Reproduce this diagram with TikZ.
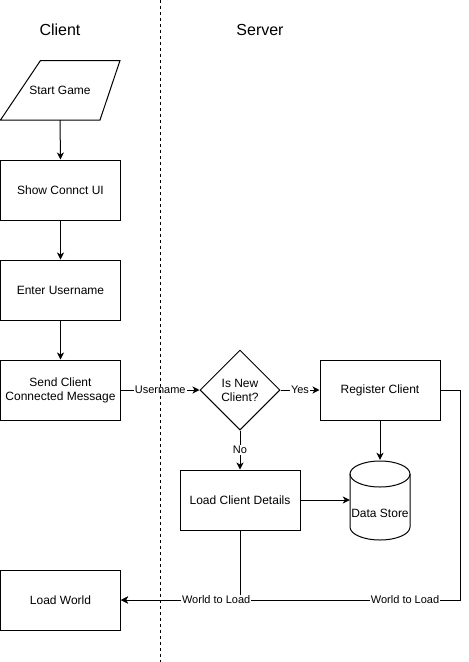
\documentclass[tikz,border=0pt]{standalone}
\usepackage{fontspec}
\setmainfont{Liberation Sans}
\usetikzlibrary{arrows.meta,shapes.geometric}
\begin{document}
\begin{tikzpicture}[x=1pt,y=-1pt,
  txt/.style={font=\fontsize{12}{14}\selectfont,align=center},
  box/.style={txt,draw,line width=1pt,minimum width=120pt,minimum height=60pt,inner sep=0pt},
  ghost/.style={txt,minimum width=#1,minimum height=60pt,inner sep=0pt},
  dia/.style={txt,draw,line width=1pt,diamond,minimum width=80pt,minimum height=80pt,inner sep=0pt},
  arr/.style={line width=1pt,-{Stealth[length=7pt,width=7pt,inset=2pt]}},
  plain/.style={line width=1pt},
  lbl/.style={fill=white,inner sep=1pt,font=\fontsize{11}{13}\selectfont},
  title/.style={font=\fontsize{16}{19}\selectfont},
  lane/.style={line width=1pt,dash pattern=on 3pt off 3pt}]
\useasboundingbox (0,0) rectangle (469,662);

% titles
\node[title] (tc) at (60,30) {Client};
\node[title] (ts) at (260,30) {Server};

% start game parallelogram
\draw[plain] (40.5,60.5) -- (120,60.5) -- (100,120) -- (0.5,120) -- cycle;
\node[ghost=100pt] (start) at (60,90) {Start Game};

\node[box] (show) at (60.5,190) {Show Connct UI};
\node[box] (enter) at (60.5,290) {Enter Username};
\node[box] (send) at (60.5,390) {Send Client\\Connected Message};
\node[box] (lw) at (60.5,600) {Load World};

\node[dia] (isnew) at (240,390) {Is New\\Client?};
\node[box] (reg) at (380,390) {Register Client};
\node[box] (lcd) at (240,500) {Load Client Details};

% data store cylinder
\draw[plain] (350,474) -- (350,527) arc[start angle=180,end angle=360,x radius=30,y radius=-13] -- (410,474);
\draw[plain] (380,474) ellipse[x radius=30,y radius=13];
\node[txt,minimum width=60pt,minimum height=80pt,inner sep=0pt] (ds) at (380,500) {};
\node[txt] (dslabel) at (380,513) {Data Store};

% connectors
\draw[arr] (start.south) -- (show.north);
\draw[arr] (show.south) -- (enter.north);
\draw[arr] (enter.south) -- (send.north);
\draw[arr] (send.east) -- node[lbl] {Username} (isnew.west);
\draw[arr] (isnew.east) -- node[lbl] {Yes} (reg.west);
\draw[arr] (isnew.south) -- node[lbl] {No} (lcd.north);
\draw[arr] (reg.south) -- (ds.north);
\draw[arr] (lcd.east) -- (ds.west);
\coordinate (rc1) at (460,390);
\coordinate (rc2) at (460,600);
\draw[arr] (reg.east) -- (rc1) -- (rc2) -- node[lbl,pos=0.162] {World to Load} (lw.east);
\coordinate (lc1) at (240,600);
\draw[arr] (lcd.south) -- (lc1) -- node[lbl,pos=0.2] {World to Load} (lw.east);

% lane separator
\draw[lane] (160,0) -- (160,662);
\end{tikzpicture}
\end{document}
